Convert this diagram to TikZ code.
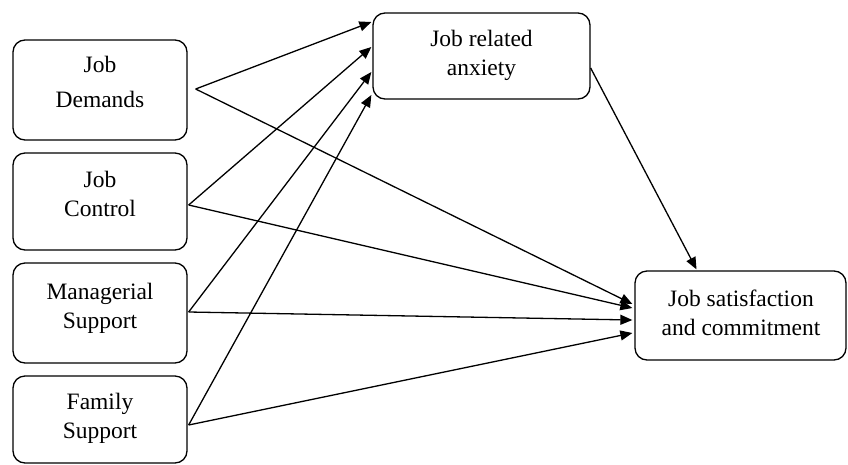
\documentclass[tikz,border=0pt]{standalone}
\usepackage{fontspec}
\setmainfont{Liberation Serif}
\usetikzlibrary{arrows.meta,calc}
\begin{document}
\begin{tikzpicture}[x=1pt,y=-1pt,
  box/.style={draw=black,line width=1.3pt,rounded corners=12pt,inner sep=0pt},
  lbl/.style={align=center,inner sep=0pt,font=\fontsize{23.5}{29}\selectfont},
  conn/.style={draw=black,line width=1.3pt,-{Triangle[length=12pt,width=10pt]}}]
\useasboundingbox (0,0) rectangle (848,464);
% boxes
\node[box,minimum width=174pt,minimum height=100pt] (dem) at (100,90) {};
\node[box,minimum width=174pt,minimum height=97pt] (ctrl) at (100,201.5) {};
\node[box,minimum width=174pt,minimum height=100pt] (mgr) at (100,313) {};
\node[box,minimum width=174pt,minimum height=87pt] (fam) at (100,419.5) {};
\node[box,minimum width=217pt,minimum height=86pt] (anx) at (481.5,56) {};
\node[box,minimum width=211pt,minimum height=89pt] (sat) at (740.5,315.5) {};
% labels
\node[lbl,font=\fontsize{23.5}{35}\selectfont] (demt) at (100,81.5) {Job\\Demands};
\node[lbl] (ctrlt) at (100,194) {Job\\Control};
\node[lbl] (mgrt) at (100,308) {Managerial\\Support};
\node[lbl] (famt) at (100,418) {Family\\Support};
\node[lbl] (anxt) at (481.5,55) {Job related\\anxiety};
\node[lbl] (satt) at (741,312.5) {Job satisfaction\\and commitment};
% connectors
\draw[conn] ($(dem.east)+(8,-1)$) -- ($(anx.west)+(-1,-34)$);
\draw[conn] ($(ctrl.east)+(1,3.5)$) -- ($(anx.west)+(-1,-9)$);
\draw[conn] ($(mgr.east)+(1,-1)$) -- ($(anx.west)+(-1,16)$);
\draw[conn] ($(fam.east)+(1,5.5)$) -- ($(anx.west)+(-1,39)$);
\draw[conn] ($(dem.east)+(8,-1)$) -- ($(sat.west)+(-2,-11.5)$);
\draw[conn] ($(ctrl.east)+(1,3.5)$) -- ($(sat.west)+(-2,-7.5)$);
\draw[conn] ($(mgr.east)+(1,-1)$) -- ($(sat.west)+(-2,4.5)$);
\draw[conn] ($(fam.east)+(1,5.5)$) -- ($(sat.west)+(-2,17.5)$);
\draw[conn] ($(anx.east)+(0,12)$) -- ($(sat.north)+(-44,-1)$);
\end{tikzpicture}
\end{document}
